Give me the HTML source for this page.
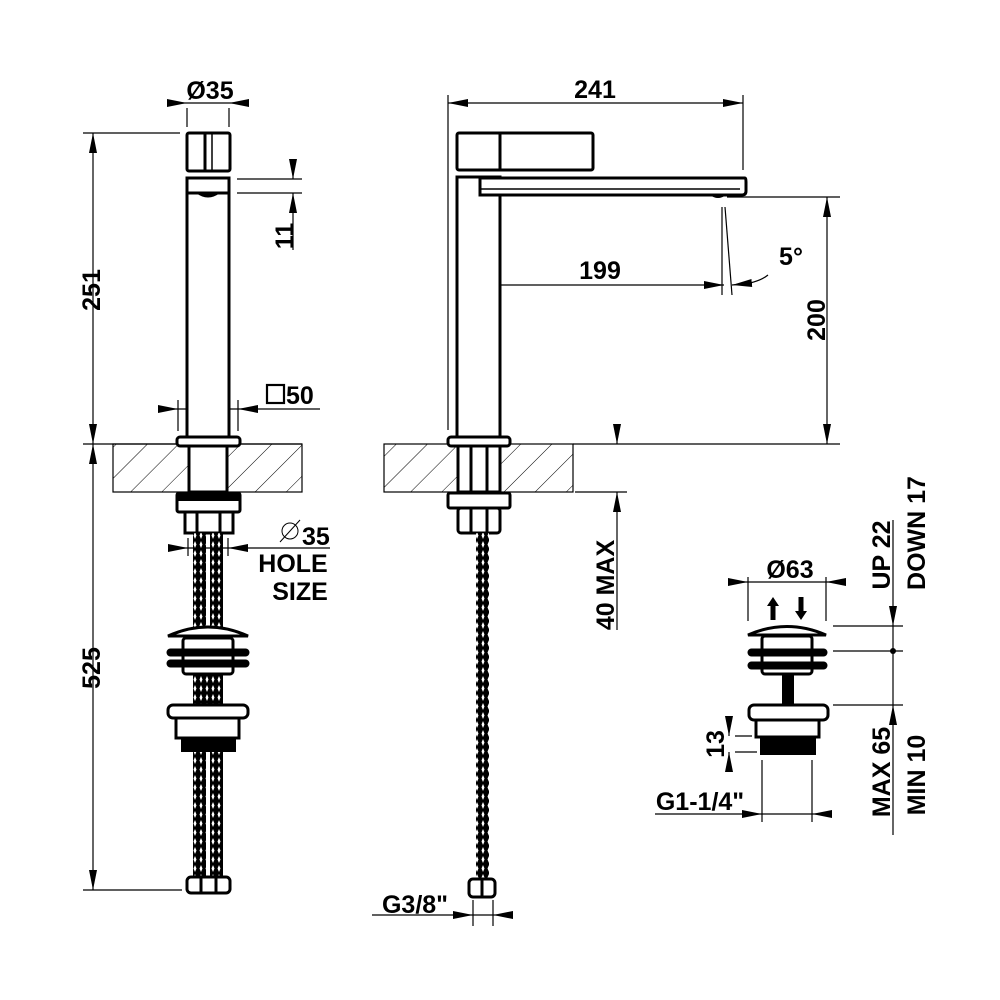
<!DOCTYPE html>
<html><head><meta charset="utf-8"><style>
html,body{margin:0;padding:0;background:#fff;}
svg{display:block;}
text{font-family:"Liberation Sans",Arial,sans-serif;font-weight:bold;fill:#000;}
</style></head><body>
<svg width="1000" height="1000" viewBox="0 0 1000 1000" xmlns="http://www.w3.org/2000/svg">
<defs>
<pattern id="hatch" width="22" height="22" patternUnits="userSpaceOnUse" patternTransform="rotate(45)">
<line x1="0" y1="0" x2="0" y2="22" stroke="#000" stroke-width="1"/>
</pattern>
<pattern id="braid" width="12" height="9" patternUnits="userSpaceOnUse">
<rect width="12" height="9" fill="#000"/>
<path d="M3 1 L4.5 4.5 L3 8 L1.5 4.5Z M9 1 L10.5 4.5 L9 8 L7.5 4.5Z" fill="#fff"/>
</pattern>
<marker id="ar" viewBox="0 0 20 10" refX="20" refY="5" markerWidth="20" markerHeight="10" markerUnits="userSpaceOnUse" orient="auto">
<path d="M0 1 L20 5 L0 9Z" fill="#000"/>
</marker>
</defs>

<g stroke="#000" fill="none" stroke-width="1.2">
<line x1="93" y1="153" x2="93" y2="133" marker-end="url(#ar)"/>
<line x1="93" y1="153" x2="93" y2="424"/>
<line x1="93" y1="424" x2="93" y2="444" marker-end="url(#ar)"/>
<line x1="83" y1="133" x2="180" y2="133"/>
<line x1="83" y1="444" x2="302" y2="444"/>
<line x1="93" y1="464" x2="93" y2="444" marker-end="url(#ar)"/>
<line x1="93" y1="464" x2="93" y2="870"/>
<line x1="93" y1="870" x2="93" y2="890" marker-end="url(#ar)"/>
<line x1="83" y1="890" x2="182" y2="890"/>
<line x1="167" y1="103" x2="187" y2="103" marker-end="url(#ar)"/>
<line x1="187" y1="103" x2="229" y2="103"/>
<line x1="249" y1="103" x2="229" y2="103" marker-end="url(#ar)"/>
<line x1="187" y1="108" x2="187" y2="127"/>
<line x1="229" y1="108" x2="229" y2="127"/>
<line x1="237" y1="179" x2="302" y2="179"/>
<line x1="237" y1="193" x2="302" y2="193"/>
<line x1="293" y1="159" x2="293" y2="179" marker-end="url(#ar)"/>
<line x1="293" y1="213" x2="293" y2="193" marker-end="url(#ar)"/>
<line x1="293" y1="213" x2="293" y2="250"/>
<line x1="158" y1="409" x2="178" y2="409" marker-end="url(#ar)"/>
<line x1="178" y1="409" x2="238" y2="409"/>
<line x1="258" y1="409" x2="238" y2="409" marker-end="url(#ar)"/>
<line x1="258" y1="409" x2="320" y2="409"/>
<line x1="178" y1="400" x2="178" y2="431"/>
<line x1="238" y1="400" x2="238" y2="431"/>
<line x1="168" y1="548" x2="188" y2="548" marker-end="url(#ar)"/>
<line x1="188" y1="548" x2="228" y2="548"/>
<line x1="248" y1="548" x2="228" y2="548" marker-end="url(#ar)"/>
<line x1="248" y1="548" x2="330" y2="548"/>
<line x1="188" y1="538" x2="188" y2="556"/>
<line x1="228" y1="538" x2="228" y2="556"/>
<line x1="280" y1="542" x2="300" y2="520" stroke-width="1"/>
<circle cx="290" cy="531" r="8" stroke-width="1"/>
</g>

<rect x="113" y="444" width="189" height="48" fill="url(#hatch)" stroke="#000" stroke-width="1.2"/>
<g stroke="#000" stroke-width="3" fill="#fff">
<rect x="187" y="133" width="43" height="38" rx="2"/>
<line x1="205" y1="134" x2="205" y2="170"/>
<line x1="212" y1="134" x2="212" y2="170" stroke-width="1.5"/>
<rect x="187" y="178" width="42" height="260"/>
<line x1="187" y1="193" x2="229" y2="193"/>
<rect x="177" y="437" width="63" height="9" rx="3"/>
<rect x="189" y="446" width="38" height="46"/>
<rect x="177" y="493" width="63" height="19" rx="2"/>
<rect x="185" y="512" width="48" height="21"/>
<line x1="197" y1="512" x2="197" y2="532"/>
<line x1="220" y1="512" x2="220" y2="532"/>
</g>
<rect x="177" y="493" width="63" height="8" fill="#000"/>
<path d="M196 193 Q208 202 220 193Z" fill="#000"/>
<rect x="193" y="533" width="13" height="347" fill="url(#braid)"/>
<rect x="210" y="533" width="13" height="347" fill="url(#braid)"/>
<g stroke="#000" stroke-width="3" fill="#fff">
<rect x="183" y="638" width="50" height="36" rx="3"/>
<path d="M168 636 Q208 618 248 636Z"/>
<rect x="168" y="650" width="80" height="5" rx="2.5" fill="#000"/>
<rect x="168" y="661" width="80" height="5" rx="2.5" fill="#000"/>
<rect x="196" y="675" width="24" height="30" fill="url(#braid)" stroke="none"/>
<rect x="168" y="705" width="80" height="13" rx="5"/>
<rect x="176" y="718" width="63" height="20"/>
</g>
<rect x="181" y="738" width="55" height="14" fill="#000"/>
<rect x="187" y="877" width="43" height="16" rx="4" fill="#fff" stroke="#000" stroke-width="3"/>
<line x1="201" y1="878" x2="201" y2="892" stroke="#000" stroke-width="3"/>
<line x1="216" y1="878" x2="216" y2="892" stroke="#000" stroke-width="3"/>

<text x="210" y="99" font-size="25" text-anchor="middle">Ø35</text>
<text transform="translate(100,290) rotate(-90)" font-size="25" text-anchor="middle">251</text>
<text transform="translate(100,668) rotate(-90)" font-size="25" text-anchor="middle">525</text>
<text transform="translate(293,236) rotate(-90)" font-size="25" text-anchor="middle">11</text>
<rect x="267" y="385" width="17" height="18" fill="none" stroke="#000" stroke-width="2.2"/>
<text x="286" y="404" font-size="25">50</text>
<text x="302" y="545" font-size="25">35</text>
<text x="293" y="572" font-size="25" text-anchor="middle">HOLE</text>
<text x="300" y="600" font-size="25" text-anchor="middle">SIZE</text>

<g stroke="#000" fill="none" stroke-width="1.2">
<line x1="468" y1="103" x2="448" y2="103" marker-end="url(#ar)"/>
<line x1="468" y1="103" x2="723" y2="103"/>
<line x1="723" y1="103" x2="743" y2="103" marker-end="url(#ar)"/>
<line x1="448" y1="95" x2="448" y2="430"/>
<line x1="743" y1="95" x2="743" y2="170"/>
<line x1="500" y1="285" x2="480" y2="285" marker-end="url(#ar)"/>
<line x1="500" y1="285" x2="704" y2="285"/>
<line x1="704" y1="285" x2="724" y2="285" marker-end="url(#ar)"/>
<line x1="480" y1="278" x2="480" y2="295"/>
<line x1="722" y1="207" x2="722" y2="295"/>
<line x1="725" y1="207" x2="732" y2="295"/>
<line x1="752" y1="283" x2="732" y2="285" marker-end="url(#ar)"/>
<path d="M750 283 Q762 280 768 275"/>
<line x1="827" y1="217" x2="827" y2="197" marker-end="url(#ar)"/>
<line x1="827" y1="217" x2="827" y2="424"/>
<line x1="827" y1="424" x2="827" y2="444" marker-end="url(#ar)"/>
<line x1="727" y1="197" x2="840" y2="197"/>
<line x1="573" y1="444" x2="840" y2="444"/>
<line x1="617" y1="424" x2="617" y2="444" marker-end="url(#ar)"/>
<line x1="617" y1="512" x2="617" y2="492" marker-end="url(#ar)"/>
<line x1="617" y1="512" x2="617" y2="630"/>
<line x1="575" y1="492" x2="627" y2="492"/>
<line x1="372" y1="915" x2="473" y2="915" marker-end="url(#ar)"/>
<line x1="473" y1="915" x2="493" y2="915"/>
<line x1="513" y1="915" x2="493" y2="915" marker-end="url(#ar)"/>
<line x1="473" y1="900" x2="473" y2="926"/>
<line x1="493" y1="900" x2="493" y2="926"/>
</g>
<rect x="384" y="444" width="189" height="48" fill="url(#hatch)" stroke="#000" stroke-width="1.2"/>
<g stroke="#000" stroke-width="3" fill="#fff">
<rect x="457" y="133" width="136" height="37" rx="2"/>
<line x1="500" y1="134" x2="500" y2="170"/>
<rect x="457" y="177" width="43" height="261"/>
<path d="M480 178 L745 178 Q746 178 746 182 L746 191 Q746 195 742 195 L480 195Z"/>
<line x1="480" y1="189" x2="740" y2="189" stroke-width="1.5"/>
<rect x="448" y="437" width="62" height="9" rx="3"/>
<rect x="458" y="446" width="42" height="46"/>
<line x1="471" y1="446" x2="471" y2="492"/>
<line x1="487" y1="446" x2="487" y2="492"/>
<rect x="448" y="493" width="62" height="15" rx="2"/>
<rect x="458" y="508" width="42" height="25" rx="3"/>
<line x1="471" y1="508" x2="471" y2="532"/>
<line x1="487" y1="508" x2="487" y2="532"/>
</g>
<path d="M710 195 Q718 201 726 195Z" fill="#000"/>
<rect x="476" y="533" width="13" height="347" fill="url(#braid)"/>
<rect x="469" y="879" width="26" height="18" rx="4" fill="#fff" stroke="#000" stroke-width="3"/>
<line x1="482" y1="880" x2="482" y2="896" stroke="#000" stroke-width="3"/>

<text x="595" y="98" font-size="25" text-anchor="middle">241</text>
<text x="600" y="279" font-size="25" text-anchor="middle">199</text>
<text x="791" y="265" font-size="25" text-anchor="middle">5°</text>
<text transform="translate(825,320) rotate(-90)" font-size="25" text-anchor="middle">200</text>
<text transform="translate(614,585) rotate(-90)" font-size="25" text-anchor="middle">40 MAX</text>
<text x="415" y="913" font-size="25" text-anchor="middle">G3/8"</text>

<g stroke="#000" fill="none" stroke-width="1.2">
<line x1="728" y1="582" x2="748" y2="582" marker-end="url(#ar)"/>
<line x1="748" y1="582" x2="826" y2="582"/>
<line x1="846" y1="582" x2="826" y2="582" marker-end="url(#ar)"/>
<line x1="748" y1="577" x2="748" y2="621"/>
<line x1="826" y1="577" x2="826" y2="621"/>
<line x1="893" y1="520" x2="893" y2="606"/>
<line x1="893" y1="606" x2="893" y2="626" marker-end="url(#ar)"/>
<line x1="893" y1="626" x2="893" y2="705"/>
<line x1="893" y1="725" x2="893" y2="705" marker-end="url(#ar)"/>
<line x1="893" y1="725" x2="893" y2="835"/>
<line x1="833" y1="626" x2="903" y2="626"/>
<line x1="833" y1="651" x2="903" y2="651"/>
<line x1="833" y1="705" x2="903" y2="705"/>
<line x1="729" y1="716" x2="729" y2="736" marker-end="url(#ar)"/>
<line x1="729" y1="772" x2="729" y2="752" marker-end="url(#ar)"/>
<line x1="735" y1="736" x2="752" y2="736"/>
<line x1="735" y1="752" x2="757" y2="752"/>
<line x1="655" y1="814" x2="762" y2="814" marker-end="url(#ar)"/>
<line x1="762" y1="814" x2="812" y2="814"/>
<line x1="832" y1="814" x2="812" y2="814" marker-end="url(#ar)"/>
<line x1="762" y1="760" x2="762" y2="822"/>
<line x1="812" y1="760" x2="812" y2="822"/>
</g>
<circle cx="893" cy="651" r="3" fill="#000"/>
<path d="M773 597 L779 606 L775.5 606 L775.5 620 L770.5 620 L770.5 606 L767 606Z" fill="#000"/>
<path d="M801 620 L807 611 L803.5 611 L803.5 597 L798.5 597 L798.5 611 L795 611Z" fill="#000"/>
<g stroke="#000" stroke-width="3" fill="#fff">
<rect x="762" y="636" width="50" height="38" rx="3"/>
<path d="M748 635 Q787 618 826 635Z"/>
<rect x="749" y="650" width="77" height="5" rx="2.5" fill="#000"/>
<rect x="749" y="663" width="77" height="5" rx="2.5" fill="#000"/>
<rect x="749" y="705" width="79" height="15" rx="5"/>
<rect x="756" y="720" width="63" height="17"/>
</g>
<rect x="782" y="675" width="12" height="30" fill="#000"/>
<rect x="760" y="737" width="56" height="18" fill="#000"/>
<text x="790" y="578" font-size="25" text-anchor="middle">Ø63</text>
<text transform="translate(890,555) rotate(-90)" font-size="25" text-anchor="middle">UP 22</text>
<text transform="translate(925,533) rotate(-90)" font-size="25" text-anchor="middle">DOWN 17</text>
<text transform="translate(890,772) rotate(-90)" font-size="25" text-anchor="middle">MAX 65</text>
<text transform="translate(925,775) rotate(-90)" font-size="25" text-anchor="middle">MIN 10</text>
<text transform="translate(724,744) rotate(-90)" font-size="25" text-anchor="middle">13</text>
<text x="700" y="810" font-size="25" text-anchor="middle">G1-1/4"</text>
</svg>
</body></html>
